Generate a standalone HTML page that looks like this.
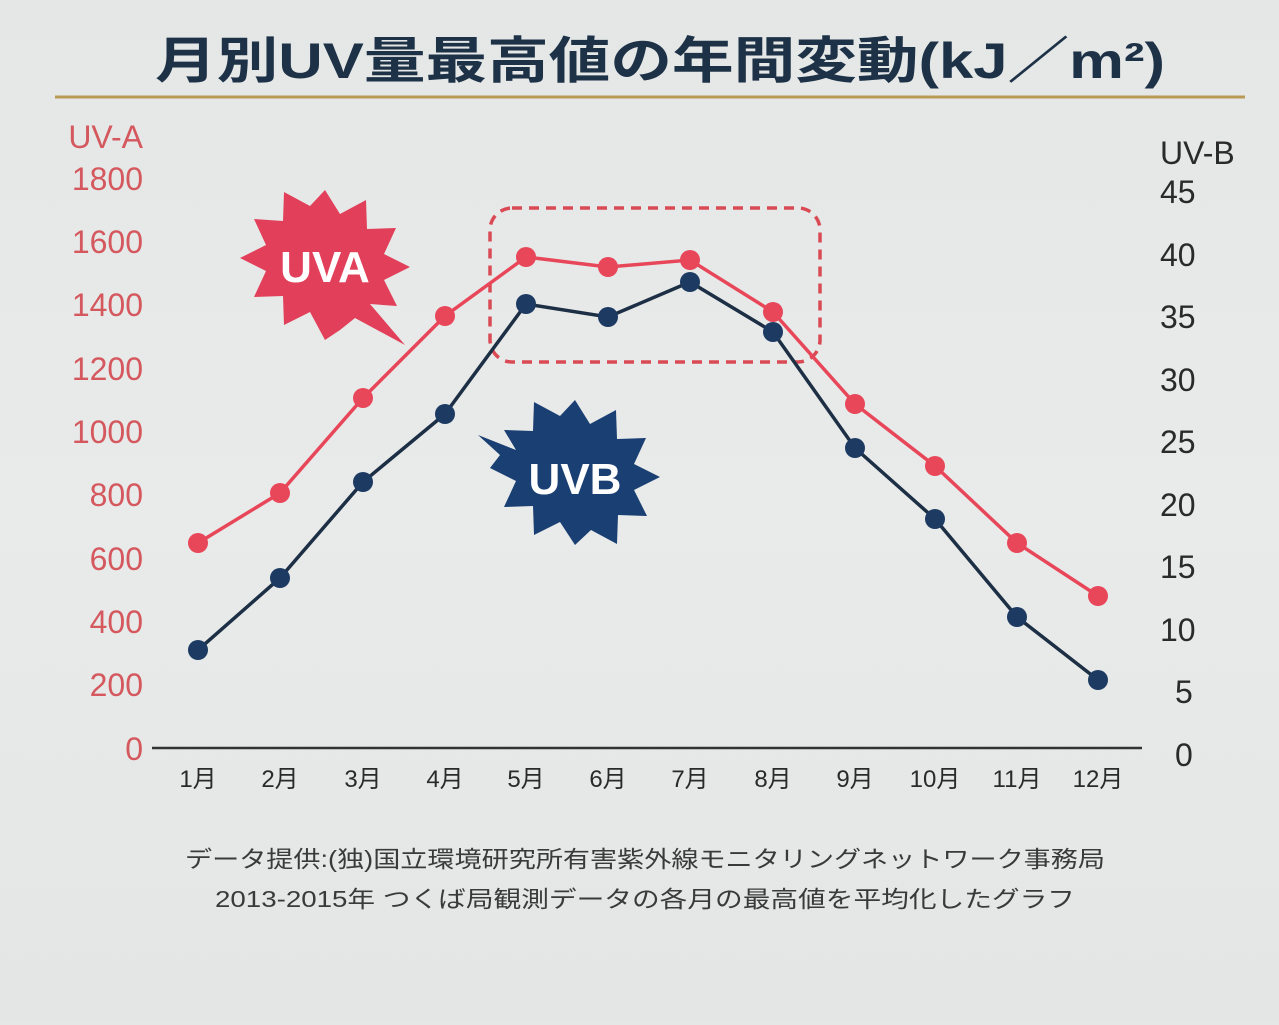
<!DOCTYPE html>
<html><head><meta charset="utf-8"><style>
html,body{margin:0;padding:0;}
body{width:1279px;height:1020px;background:linear-gradient(180deg,#e4e7e6 0%,#e9ebea 50%,#e3e6e5 100%);overflow:hidden;}
svg text{font-family:"Liberation Sans","Noto Sans CJK JP",sans-serif;}
</style></head><body>
<svg width="1279" height="1020" viewBox="0 0 1279 1020" xmlns="http://www.w3.org/2000/svg">
<text x="155" y="78" textLength="1010" lengthAdjust="spacingAndGlyphs" font-size="50" font-weight="bold" fill="#1d3147">月別UV量最高値の年間変動(kJ／m²)</text>
<line x1="55" y1="97" x2="1245" y2="97" stroke="#b89a55" stroke-width="3"/>
<g fill="#d4585e" font-size="32" text-anchor="end">
<text x="143" y="148">UV-A</text>
<text x="143" y="190">1800</text><text x="143" y="253">1600</text><text x="143" y="316">1400</text>
<text x="143" y="380">1200</text><text x="143" y="443">1000</text><text x="143" y="506">800</text>
<text x="143" y="570">600</text><text x="143" y="633">400</text><text x="143" y="696">200</text><text x="143" y="760">0</text>
</g>
<g fill="#2a2a2a" font-size="32">
<text x="1160" y="164">UV-B</text>
<text x="1160" y="203">45</text><text x="1160" y="266">40</text><text x="1160" y="328">35</text>
<text x="1160" y="391">30</text><text x="1160" y="453">25</text><text x="1160" y="516">20</text>
<text x="1160" y="578">15</text><text x="1160" y="641">10</text><text x="1175" y="703">5</text><text x="1175" y="766">0</text>
</g>
<line x1="152" y1="748" x2="1142" y2="748" stroke="#333" stroke-width="2.5"/>
<g fill="#2a2a2a" font-size="24" text-anchor="middle">
<text x="198" y="787">1月</text><text x="280" y="787">2月</text><text x="363" y="787">3月</text><text x="445" y="787">4月</text>
<text x="526" y="787">5月</text><text x="608" y="787">6月</text><text x="690" y="787">7月</text><text x="773" y="787">8月</text>
<text x="855" y="787">9月</text><text x="935" y="787">10月</text><text x="1017" y="787">11月</text><text x="1098" y="787">12月</text>
</g>
<rect x="490" y="208" width="330" height="154" rx="22" fill="none" stroke="#d94a55" stroke-width="3.5" stroke-dasharray="10,7"/>
<polyline fill="none" stroke="#e8475a" stroke-width="3.5" points="198,543 280,493 363,398 445,316 526,257 608,267 690,260 773,312 855,404 935,466 1017,543 1098,596"/>
<g fill="#e8475a">
<circle cx="198" cy="543" r="10"/><circle cx="280" cy="493" r="10"/><circle cx="363" cy="398" r="10"/><circle cx="445" cy="316" r="10"/><circle cx="526" cy="257" r="10"/><circle cx="608" cy="267" r="10"/><circle cx="690" cy="260" r="10"/><circle cx="773" cy="312" r="10"/><circle cx="855" cy="404" r="10"/><circle cx="935" cy="466" r="10"/><circle cx="1017" cy="543" r="10"/><circle cx="1098" cy="596" r="10"/>
</g>
<polyline fill="none" stroke="#1d2f45" stroke-width="3.5" points="198,650 280,578 363,482 445,414 526,304 608,317 690,282 773,332 855,448 935,519 1017,617 1098,680"/>
<g fill="#1d3a63">
<circle cx="198" cy="650" r="10"/><circle cx="280" cy="578" r="10"/><circle cx="363" cy="482" r="10"/><circle cx="445" cy="414" r="10"/><circle cx="526" cy="304" r="10"/><circle cx="608" cy="317" r="10"/><circle cx="690" cy="282" r="10"/><circle cx="773" cy="332" r="10"/><circle cx="855" cy="448" r="10"/><circle cx="935" cy="519" r="10"/><circle cx="1017" cy="617" r="10"/><circle cx="1098" cy="680" r="10"/>
</g>
<polygon fill="#e2405a" points="325,190 340,214 366,200 367,229 396,228 384,254 410,267 384,280 397,306 370,304 405,345 355,318 340,330 325,340 310,312 284,325 283,296 254,297 266,271 240,258 266,245 254,219 283,221 284,192 310,206"/>
<text x="325" y="282" text-anchor="middle" font-size="44" font-weight="600" fill="#ffffff">UVA</text>
<polygon fill="#1a3f73" points="575,400 590,424 616,410 617,439 646,438 634,464 660,477 634,490 647,516 618,515 617,544 591,530 575,545 560,522 534,535 533,506 504,507 516,481 490,468 500,455 478,435 516,450 504,430 533,431 534,402 560,416"/>
<text x="575" y="494" text-anchor="middle" font-size="44" font-weight="600" fill="#ffffff">UVB</text>
<g fill="#3a3a3a" font-size="23">
<text x="185" y="867" textLength="920" lengthAdjust="spacingAndGlyphs">データ提供:(独)国立環境研究所有害紫外線モニタリングネットワーク事務局</text>
<text x="215" y="907" textLength="860" lengthAdjust="spacingAndGlyphs">2013-2015年 つくば局観測データの各月の最高値を平均化したグラフ</text>
</g>
</svg>
</body></html>
